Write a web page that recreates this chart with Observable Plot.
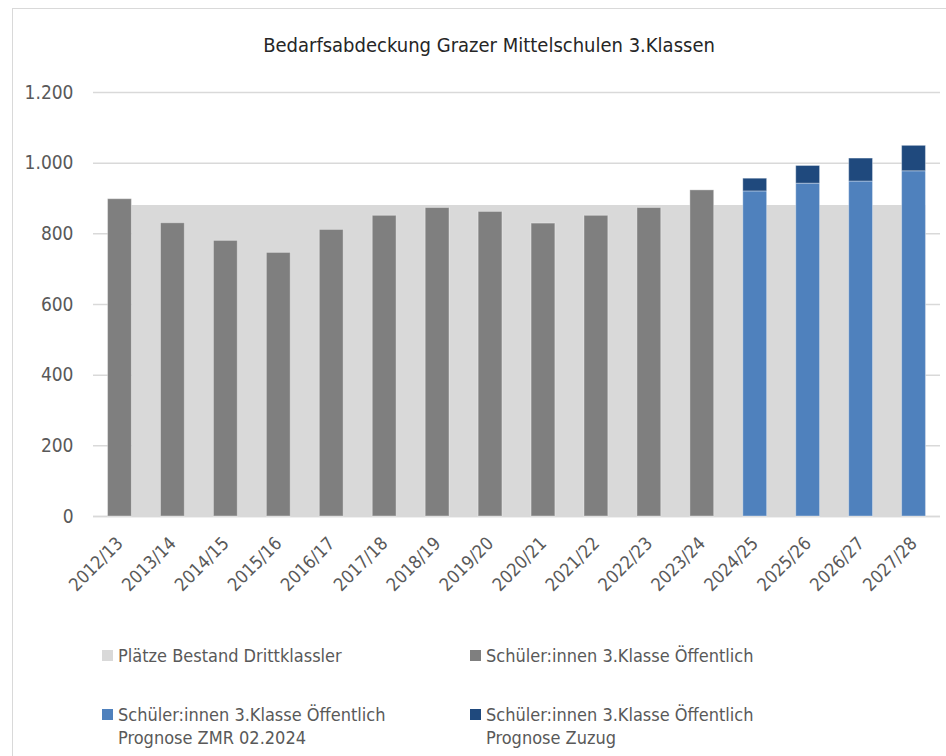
<!DOCTYPE html>
<html>
<head>
<meta charset="utf-8">
<script src="https://cdn.jsdelivr.net/npm/d3@7"></script>
<script src="https://cdn.jsdelivr.net/npm/@observablehq/plot@0.6"></script>
<style>
  html, body { margin: 0; padding: 0; background: #fff; }
  body { width: 946px; height: 756px; position: relative; overflow: hidden;
         font-family: "Liberation Sans Narrow", "DejaVu Sans Condensed", "Roboto", sans-serif; }
  #frame { position: absolute; left: 12px; top: 8px; width: 960px; height: 780px;
           border: 1.5px solid #d9d9d9; box-sizing: border-box; }
  #title { position: absolute; left: 0; top: 0; width: 978px; height: 70px; line-height: 90px;
           text-align: center; font-size: 20px; color: #262626; }
  #chart { position: absolute; left: 0; top: 70px; }
  #legend { position: absolute; left: 0; top: 630px; width: 946px; font-size: 18px; color: #595959; }
  .item { position: absolute; display: flex; align-items: flex-start; line-height: 23px; }
  .sw { width: 11px; height: 11px; margin-right: 5px; margin-top: 6px; flex: none; }
</style>
</head>
<body>
<div id="frame"></div>
<div id="title">Bedarfsabdeckung Grazer Mittelschulen 3.Klassen</div>
<div id="chart"></div>
<div id="legend"></div>
<script>
const years = ["2012/13","2013/14","2014/15","2015/16","2016/17","2017/18","2018/19","2019/20",
               "2020/21","2021/22","2022/23","2023/24","2024/25","2025/26","2026/27","2027/28"];
const plaetzeBestand = [880,880,880,880,880,880,880,880,880,880,880,880,880,880,880,880];
const schuelerOeffentlich = [898,830,780,746,811,851,873,862,829,851,873,923,null,null,null,null];
const prognoseZMR = [null,null,null,null,null,null,null,null,null,null,null,null,920,942,948,977];
const prognoseZuzug = [null,null,null,null,null,null,null,null,null,null,null,null,36,50,65,72];
const yTicks = [0,200,400,600,800,1000,1200];

const seriesNames = [
  "Plätze Bestand Drittklassler",
  "Schüler:innen 3.Klasse Öffentlich",
  "Schüler:innen 3.Klasse Öffentlich Prognose ZMR 02.2024",
  "Schüler:innen 3.Klasse Öffentlich Prognose Zuzug"
];
const seriesColors = ["#d9d9d9", "#7f7f7f", "#4f81bd", "#1f497d"];

const capTable = years.map((y, i) => ({year: y, value: plaetzeBestand[i]}));
const barTable = [];
years.forEach((y, i) => {
  if (schuelerOeffentlich[i] != null) barTable.push({year: y, value: schuelerOeffentlich[i], series: seriesNames[1]});
  if (prognoseZMR[i] != null) barTable.push({year: y, value: prognoseZMR[i], series: seriesNames[2]});
  if (prognoseZuzug[i] != null) barTable.push({year: y, value: prognoseZuzug[i], series: seriesNames[3]});
});

const de = d3.formatLocale({decimal: ",", thousands: ".", grouping: [3], currency: ["", " €"]});
const fmt = de.format(",");

const W = 946, H = 560, mL = 93, mR = 6, mT = 22, mB = 114;
const xOpts = {domain: years, paddingInner: 0.55, paddingOuter: 0.275, round: false, label: null};
// half band width, from the library's own band scale, to centre the area on the categories
const xScale = Plot.scale({x: {type: "band", ...xOpts, range: [mL, W - mR]}});
const half = xScale.bandwidth / 2;

const chart = Plot.plot({
  width: W,
  height: H,
  marginTop: mT,
  marginBottom: mB,
  marginLeft: mL,
  marginRight: mR,
  style: {fontFamily: '"Liberation Sans Narrow", "DejaVu Sans Condensed", "Roboto", sans-serif', fontSize: "19px", color: "#595959", background: "transparent"},
  x: xOpts,
  y: {domain: [0, 1200], label: null},
  color: {domain: seriesNames, range: seriesColors},
  marks: [
    Plot.gridY(yTicks, {stroke: "#d9d9d9", strokeOpacity: 1, strokeWidth: 1.5}),
    Plot.areaY(capTable, {x: "year", y: "value", fill: "#d9d9d9", dx: half}),
    Plot.ruleY([0], {stroke: "#d9d9d9", strokeWidth: 1.5}),
    Plot.barY(barTable, {x: "year", y: "value", fill: "series", stroke: "#ffffff", strokeOpacity: 0.35, strokeWidth: 1}),
    Plot.axisY(yTicks, {tickSize: 0, tickPadding: 20, tickFormat: fmt, fontSize: 19, fill: "#595959"}),
    Plot.axisX({tickSize: 0, tickPadding: 24, tickRotate: -45, fontSize: 18, fill: "#595959"})
  ]
});
document.getElementById("chart").appendChild(chart);

// legend
const legend = document.getElementById("legend");
const pos = [
  {left: 102, top: 14},
  {left: 470, top: 14},
  {left: 102, top: 73},
  {left: 470, top: 73}
];
const lines = [
  ["Plätze Bestand Drittklassler"],
  ["Schüler:innen 3.Klasse Öffentlich"],
  ["Schüler:innen 3.Klasse Öffentlich", "Prognose ZMR 02.2024"],
  ["Schüler:innen 3.Klasse Öffentlich", "Prognose Zuzug"]
];
seriesNames.forEach((name, i) => {
  const it = document.createElement("div");
  it.className = "item";
  it.style.left = pos[i].left + "px";
  it.style.top = pos[i].top + "px";
  const sw = document.createElement("div");
  sw.className = "sw";
  sw.style.background = seriesColors[i];
  const tx = document.createElement("div");
  tx.innerHTML = lines[i].join("<br>");
  it.appendChild(sw);
  it.appendChild(tx);
  legend.appendChild(it);
});
</script>
</body>
</html>
